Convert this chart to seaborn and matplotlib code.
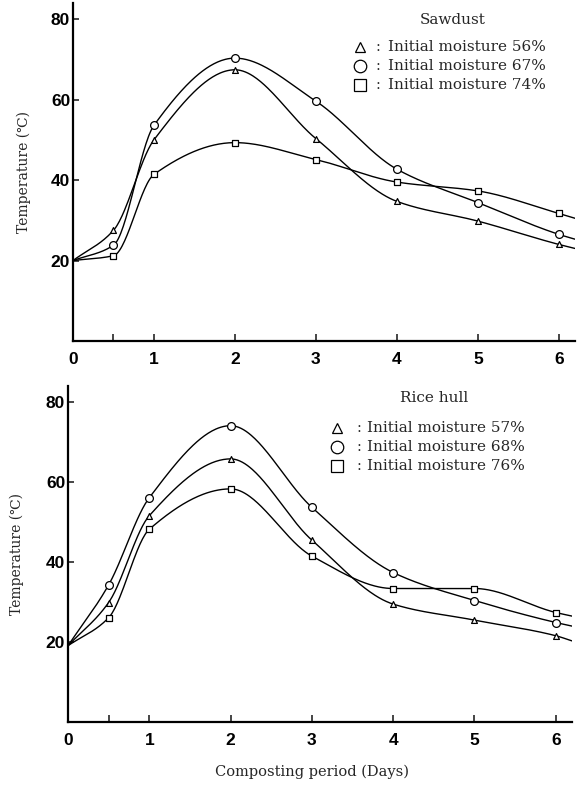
import numpy as np
import pandas as pd
import matplotlib
matplotlib.use("Agg")
import matplotlib.pyplot as plt
import seaborn as sns

# Composting days at which temperature was measured
days = [0, 0.5, 1, 2, 3, 4, 5, 6]
day_end = 6.2  # curves continue to the right edge of the axis

# Sawdust (temperature, deg C)
saw_56 = [20, 27.5, 50.0, 67.4, 50.3, 34.7, 29.8, 24.0]
saw_67 = [20, 23.8, 53.6, 70.3, 59.6, 42.7, 34.4, 26.5]
saw_74 = [20, 21.2, 41.4, 49.3, 45.1, 39.5, 37.3, 31.7]
saw_end = [23.0, 25.3, 30.5]

# Rice hull (temperature, deg C)
rice_57 = [19, 29.8, 51.5, 65.7, 45.4, 29.4, 25.4, 21.5]
rice_68 = [19, 34.2, 56.0, 74.0, 53.6, 37.3, 30.3, 24.8]
rice_76 = [19, 26.0, 48.1, 58.2, 41.4, 33.3, 33.3, 27.3]
rice_end = [20.2, 23.9, 26.4]

saw_labels = ["Initial moisture 56%", "Initial moisture 67%", "Initial moisture 74%"]
rice_labels = ["Initial moisture 57%", "Initial moisture 68%", "Initial moisture 76%"]
marker_cycle = ["^", "o", "s"]
marker_size = [4.2, 5.6, 4.8]

sns.set_theme(style="white")
plt.rcParams["font.family"] = ["DejaVu Serif"]

SERIF = ["DejaVu Serif"]
TICKFONT = ["Liberation Sans", "DejaVu Sans"]


def pchip(x, y, xs):
    """Shape-preserving cubic Hermite curve through (x, y)."""
    x = np.asarray(x, float)
    y = np.asarray(y, float)
    h = np.diff(x)
    d = np.diff(y) / h
    m = np.zeros_like(y)
    for k in range(1, len(x) - 1):
        if d[k - 1] * d[k] > 0:
            w1 = 2 * h[k] + h[k - 1]
            w2 = h[k] + 2 * h[k - 1]
            m[k] = (w1 + w2) / (w1 / d[k - 1] + w2 / d[k])
    m[0] = d[0]
    m[-1] = d[-1]
    idx = np.clip(np.searchsorted(x, xs) - 1, 0, len(x) - 2)
    t = (xs - x[idx]) / h[idx]
    h00 = 2 * t**3 - 3 * t**2 + 1
    h10 = t**3 - 2 * t**2 + t
    h01 = -2 * t**3 + 3 * t**2
    h11 = t**3 - t**2
    return (h00 * y[idx] + h10 * h[idx] * m[idx]
            + h01 * y[idx + 1] + h11 * h[idx] * m[idx + 1])


def draw_panel(ax, series, ends, labels, title, legend):
    xs = np.linspace(0, day_end, 400)
    for vals, end, mk, ms in zip(series, ends, marker_cycle, marker_size):
        xk = days + [day_end]
        yk = vals + [end]
        curve = pd.DataFrame({"day": xs, "temp": pchip(xk, yk, xs)})
        sns.lineplot(data=curve, x="day", y="temp", ax=ax, color="black",
                     linewidth=1.0, zorder=2)
        pts = pd.DataFrame({"day": days[1:], "temp": vals[1:]})
        sns.scatterplot(data=pts, x="day", y="temp", ax=ax, marker=mk,
                        s=ms**2, facecolor="white", edgecolor="black",
                        linewidth=0.9, zorder=3)

    ax.set_xlim(0, day_end)
    ax.set_ylim(0, 84)
    ax.set_xticks([0, 1, 2, 3, 4, 5, 6])
    ax.set_xticks([0.5], minor=True)
    ax.set_yticks([20, 40, 60, 80])
    ax.tick_params(axis="x", which="both", direction="in", length=5,
                   width=1.2, bottom=True, pad=8)
    ax.tick_params(axis="y", direction="in", length=4, width=1.2, left=True, pad=2)
    for lab in ax.get_xticklabels() + ax.get_yticklabels():
        lab.set_fontfamily(TICKFONT)
        lab.set_fontweight("bold")
        lab.set_fontsize(12.5)
        lab.set_color("black")
    for side in ("top", "right"):
        ax.spines[side].set_visible(False)
    for side in ("left", "bottom"):
        ax.spines[side].set_linewidth(1.6)
        ax.spines[side].set_color("black")
    ax.set_xlabel("")
    ax.set_ylabel("Temperature (℃)", family=SERIF, fontsize=10,
                  labelpad=legend["ypad"])

    ax.text(legend["title_x"], legend["title_y"], title, transform=ax.transAxes,
            family=SERIF, fontsize=11, ha="center", va="center")
    for i, (mk, lab) in enumerate(zip(marker_cycle, labels)):
        yy = legend["rows"][i]
        ax.plot([legend["mark_x"]], [yy], transform=ax.transAxes, marker=mk,
                markersize=[6.5, 9, 8][i], markerfacecolor="white",
                markeredgecolor="black", markeredgewidth=0.9,
                linestyle="none", clip_on=False)
        ax.text(legend["colon_x"], yy, ":", transform=ax.transAxes,
                family=SERIF, fontsize=10.5, ha="center", va="center")
        ax.text(legend["text_x"], yy, lab, transform=ax.transAxes,
                family=SERIF, fontsize=11, ha="left", va="center")


fig = plt.figure(figsize=(5.83, 7.89), dpi=100)
ax_top = fig.add_axes([73 / 583, 1 - 341 / 789, 502 / 583, 338 / 789])
ax_bot = fig.add_axes([68 / 583, 1 - 721.7 / 789, 504 / 583, 336 / 789])

draw_panel(ax_top, [saw_56, saw_67, saw_74], saw_end, saw_labels, "Sawdust",
           dict(title_x=0.757, title_y=0.95, rows=[0.87, 0.815, 0.757],
                mark_x=0.572, colon_x=0.607, text_x=0.628, ypad=14))
draw_panel(ax_bot, [rice_57, rice_68, rice_76], rice_end, rice_labels, "Rice hull",
           dict(title_x=0.726, title_y=0.963, rows=[0.875, 0.818, 0.762],
                mark_x=0.534, colon_x=0.577, text_x=0.594, ypad=16))

fig.text(312 / 583, 1 - 772 / 789, "Composting period (Days)", family=SERIF,
         fontsize=10.5, ha="center", va="center")

fig.savefig("out.png", dpi=100)
